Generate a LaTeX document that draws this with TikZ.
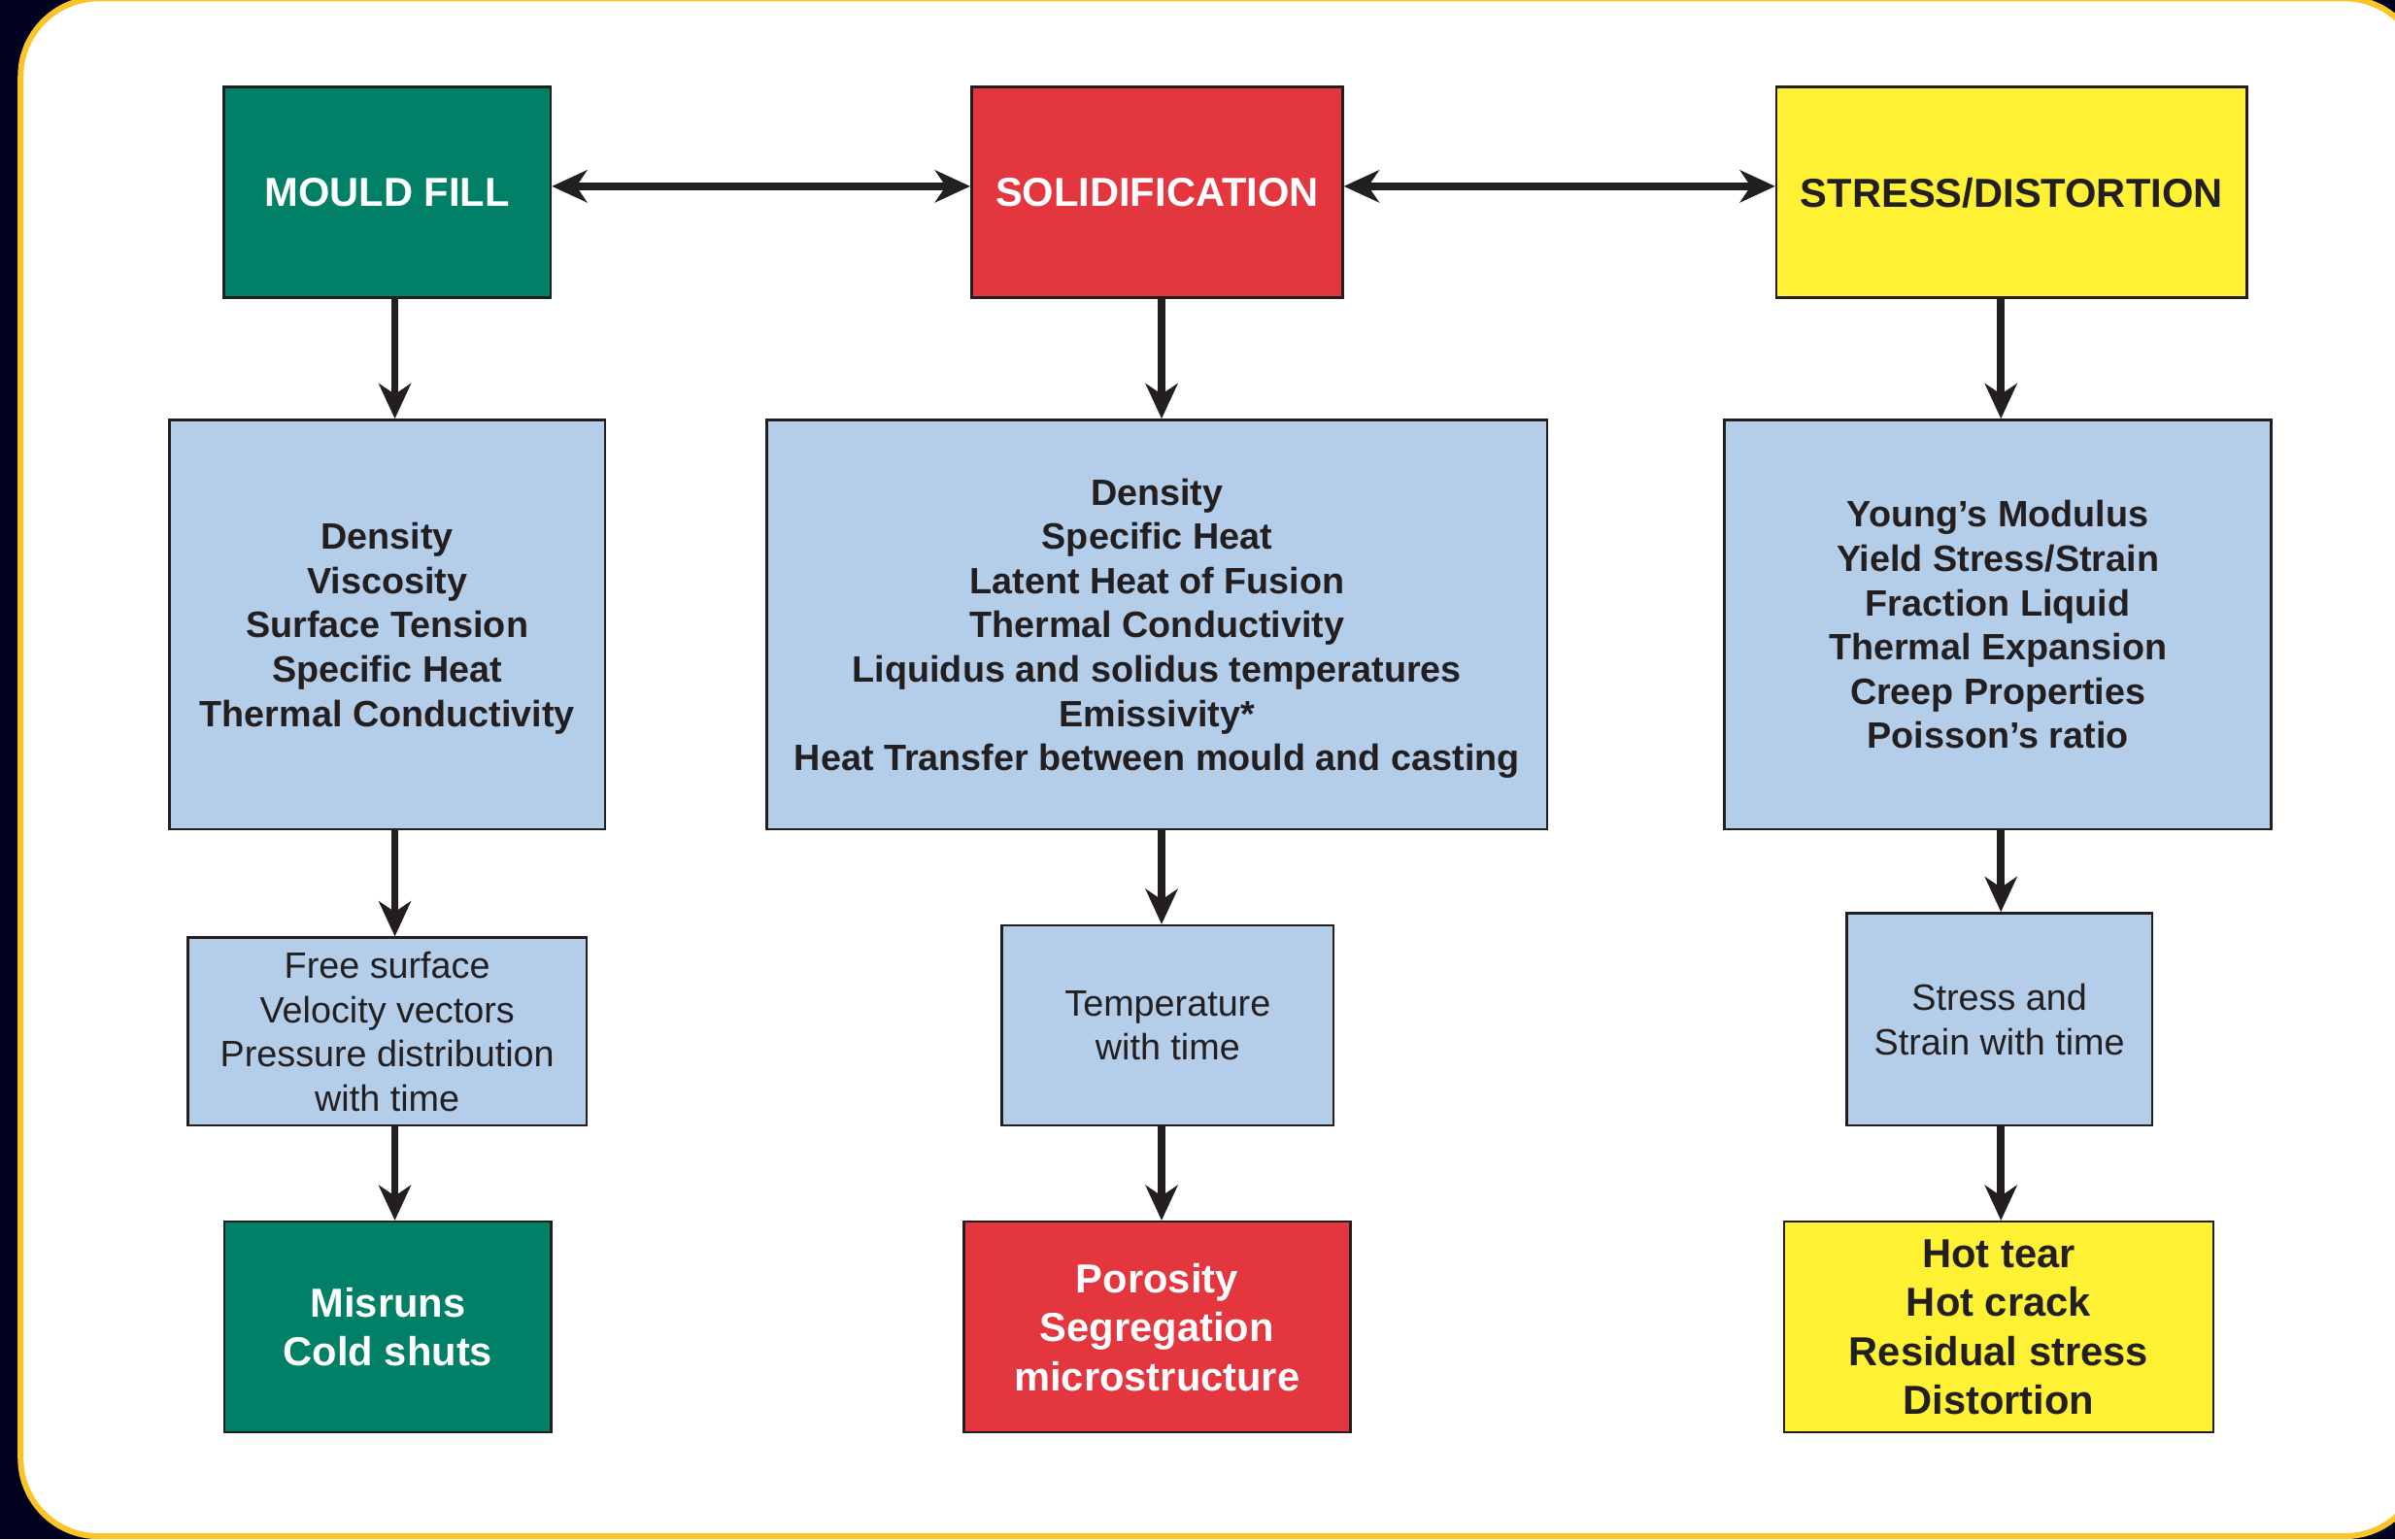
\documentclass[tikz,border=0pt]{standalone}
\usepackage{fontspec}
\setmainfont{Liberation Sans}
\usetikzlibrary{arrows.meta}
\definecolor{bgdark}{RGB}{1,1,32}
\definecolor{frameyellow}{RGB}{253,196,40}
\definecolor{ink}{RGB}{35,31,32}
\definecolor{mgreen}{RGB}{0,128,102}
\definecolor{mred}{RGB}{227,54,62}
\definecolor{myellow}{RGB}{255,241,51}
\definecolor{mblue}{RGB}{180,205,232}
\begin{document}
\begin{tikzpicture}[x=1pt,y=-1pt,
  boxbase/.style={draw=ink, line width=1.6pt, inner sep=0pt, align=center, text depth=0pt},
  headbox/.style={boxbase, font=\fontsize{26.5}{32}\selectfont\bfseries},
  propbox/.style={boxbase, fill=mblue, text=ink, font=\fontsize{24}{29}\selectfont\bfseries},
  resbox/.style={boxbase, fill=mblue, text=ink, font=\fontsize{24}{29}\selectfont},
  link/.style={draw=ink, line width=5pt, -{Stealth[length=23pt,width=21pt,inset=7pt]}},
  dlink/.style={draw=ink, line width=5pt, {Stealth[length=23pt,width=21pt,inset=7pt]}-{Stealth[length=23pt,width=21pt,inset=7pt]}}]
\useasboundingbox (0,0) rectangle (1568,1008);
\fill[bgdark] (0,0) rectangle (1568,1008);
\draw[frameyellow, line width=3.8pt, fill=white, rounded corners=51pt] (13.5,-1) rectangle (1586,1006);

% column coordinates
\coordinate (cA) at (258.5,0);
\coordinate (cB) at (760.5,0);
\coordinate (cC) at (1310,0);
\coordinate (hy) at (0,122);

% top row
\node[headbox, fill=mgreen, text=white, minimum width=214pt, minimum height=138pt] (mf) at (253.5,126) {MOULD FILL};
\node[headbox, fill=mred, text=white, minimum width=243pt, minimum height=138pt] (so) at (757.5,126) {SOLIDIFICATION};
\node[headbox, fill=myellow, text=ink, minimum width=308pt, minimum height=138pt] (st) at (1317,126) {STRESS/DISTORTION};

% properties row
\node[propbox, minimum width=285pt, minimum height=268pt] (mp) at (253.5,409) {Density\\Viscosity\\Surface Tension\\Specific Heat\\Thermal Conductivity};
\node[propbox, minimum width=511pt, minimum height=268pt] (sp) at (757.5,409) {Density\\Specific Heat\\Latent Heat of Fusion\\Thermal Conductivity\\Liquidus and solidus temperatures\\Emissivity*\\Heat Transfer between mould and casting};
\node[propbox, minimum width=358pt, minimum height=268pt] (tp) at (1308,409) {Young’s Modulus\\Yield Stress/Strain\\Fraction Liquid\\Thermal Expansion\\Creep Properties\\Poisson’s ratio};

% results row
\node[resbox, minimum width=261pt, minimum height=123pt] (mr) at (253.5,675.5) {Free surface\\Velocity vectors\\Pressure distribution\\with time};
\node[resbox, minimum width=217pt, minimum height=131pt] (sr) at (764.5,671.5) {Temperature\\with time};
\node[resbox, minimum width=200pt, minimum height=139pt] (tr) at (1309,667.5) {Stress and\\Strain with time};

% defects row
\node[headbox, fill=mgreen, text=white, minimum width=214pt, minimum height=138pt] (md) at (254,869) {Misruns\\Cold shuts};
\node[headbox, fill=mred, text=white, minimum width=253pt, minimum height=138pt] (sd) at (757.5,869) {Porosity\\Segregation\\microstructure};
\node[headbox, fill=myellow, text=ink, minimum width=281pt, minimum height=138pt] (td) at (1308.5,869) {Hot tear\\Hot crack\\Residual stress\\Distortion};

% horizontal links
\draw[dlink] (mf.east |- hy) -- (so.west |- hy);
\draw[dlink] (so.east |- hy) -- (st.west |- hy);

% vertical links
\draw[link] (mf.south -| cA) -- (mp.north -| cA);
\draw[link] (mp.south -| cA) -- (mr.north -| cA);
\draw[link] (mr.south -| cA) -- (md.north -| cA);
\draw[link] (so.south -| cB) -- (sp.north -| cB);
\draw[link] (sp.south -| cB) -- (sr.north -| cB);
\draw[link] (sr.south -| cB) -- (sd.north -| cB);
\draw[link] (st.south -| cC) -- (tp.north -| cC);
\draw[link] (tp.south -| cC) -- (tr.north -| cC);
\draw[link] (tr.south -| cC) -- (td.north -| cC);
\end{tikzpicture}
\end{document}
